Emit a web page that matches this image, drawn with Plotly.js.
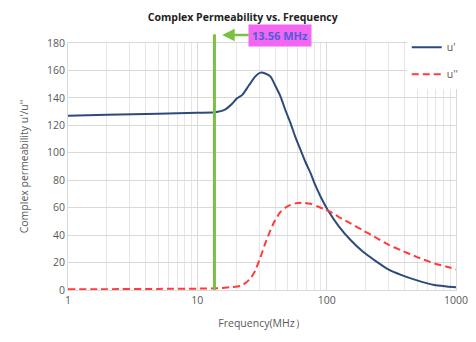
<!DOCTYPE html>
<html><head><meta charset="utf-8">
<script src="https://cdn.plot.ly/plotly-3.0.1.min.js"></script>
<style>html,body{margin:0;padding:0;background:#fff}#chart{width:476px;height:342px}</style>
</head><body><div id="chart"></div>
<script>
// Frequency (MHz)
const freqReal = [1, 2, 5, 10, 13.56, 16.5, 18.5, 20.3, 22.2, 25, 28, 30.8, 33.5, 36.8, 40, 44, 48, 52.6, 57, 62.9, 68, 75.2, 82, 89.8, 97, 104, 125, 153, 190, 233, 300, 375, 500, 679, 850, 1000];
const uReal = [127, 127.8, 128.5, 129.2, 129.5, 131.7, 135.5, 139.7, 142, 149, 155.5, 158.4, 157.8, 155.5, 149, 141, 131, 121.5, 112, 102, 94, 85, 76, 68, 62, 57, 46, 36.4, 28, 21.9, 15, 11, 7, 3.6, 2.6, 2];
const freqImag = [1, 2, 5, 10, 13.56, 18, 21.6, 23.5, 25.8, 28, 30.8, 33.5, 36.8, 40, 44, 48, 52.6, 58, 66.3, 75, 84.6, 95, 107, 125, 153, 190, 233, 300, 375, 500, 679, 850, 1000];
const uImag = [0.5, 0.6, 0.8, 1, 1.2, 2, 3, 5, 8.5, 14, 24, 34, 43.7, 51, 57, 60, 62, 63.2, 63.6, 62.8, 61, 59, 57, 53, 48.6, 43.5, 38.9, 33, 29, 24, 19.4, 17, 15];
const markerFreq = 13.56;
const markerLabel = '13.56 MHz';
const yTicks = [0, 20, 40, 60, 80, 100, 120, 140, 160, 180];
const xTicks = [1, 10, 100, 1000];

const font = '"Open Sans", "Liberation Sans", sans-serif';
const traces = [
  {x: freqReal, y: uReal, name: "u'", mode: 'lines', line: {color: '#2e4a7d', width: 2, shape: 'spline', smoothing: 0.6}, legendgroup: 'a'},
  {x: freqImag, y: uImag, name: "u''", mode: 'lines', line: {color: '#ff3b3b', width: 2, dash: '7px,4px', shape: 'spline', smoothing: 0.6}, legendgroup: 'b'}
];
const layout = {
  width: 476, height: 342,
  margin: {l: 68, r: 20, t: 43, b: 52, autoexpand: false},
  paper_bgcolor: '#fff', plot_bgcolor: '#fff',
  font: {family: font, size: 10.5, color: '#595959'},
  title: {text: '<b>Complex Permeability vs. Frequency</b>', x: 0.51, xanchor: 'center', y: 0.95, yanchor: 'middle', font: {family: font, size: 10.5, color: '#222'}},
  xaxis: {
    type: 'log', range: [0, 3], tickvals: xTicks, ticktext: xTicks.map(String),
    showgrid: true, gridcolor: '#d9d9d9', gridwidth: 1,
    minor: {dtick: 'D1', showgrid: true, gridcolor: '#e6e6e6', gridwidth: 1},
    zeroline: false, showline: true, linecolor: '#d9d9d9', mirror: true, ticks: '',
    title: {text: 'Frequency(MHz）', font: {family: font, size: 10.5, color: '#595959'}, standoff: 14}
  },
  yaxis: {
    range: [0, 180], tickvals: yTicks, showgrid: true, gridcolor: '#d9d9d9', gridwidth: 1,
    zeroline: false, showline: true, linecolor: '#d9d9d9', mirror: true, ticks: '',
    title: {text: "Complex permeability u'/u''", font: {family: font, size: 10.5, color: '#595959'}, standoff: 16}
  },
  legend: {x: 1.02, y: 1.042, xanchor: 'right', yanchor: 'top', bgcolor: '#fff', font: {family: font, size: 10.5, color: '#595959'}, itemwidth: 30, tracegroupgap: 8},
  shapes: [
    {type: 'line', xref: 'x', yref: 'paper', x0: markerFreq, x1: markerFreq, y0: 0, y1: 1.035, line: {color: '#7ac143', width: 3}}
  ],
  annotations: [
    {xref: 'x', yref: 'paper', x: Math.log10(markerFreq) + 0.06, y: 1.032, text: '<b>' + markerLabel + '</b>', showarrow: true,
     ax: 58, ay: 0, arrowhead: 2, arrowsize: 1, arrowwidth: 2.5, arrowcolor: '#7ac143', standoff: 0,
     bgcolor: '#f266f2', font: {family: font, size: 11, color: '#4a5fd6'}, borderpad: 3}
  ],
  showlegend: true
};
Plotly.newPlot('chart', traces, layout, {displayModeBar: false, staticPlot: true});
</script></body></html>
